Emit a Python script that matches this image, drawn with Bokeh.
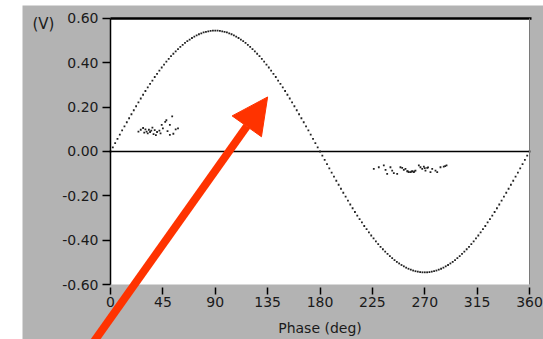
from bokeh.plotting import figure
from bokeh.models import (Range1d, FixedTicker, NumeralTickFormatter, LinearAxis,
                          BoxAnnotation, Arrow, NormalHead, Label)
from bokeh.embed import file_html
from bokeh.resources import INLINE

# ---- data ----
phase = list(range(0, 362, 2))
volts = [
    0.000, 0.019, 0.038, 0.057, 0.076, 0.095, 0.113, 0.132, 0.150, 0.168,
    0.186, 0.204, 0.222, 0.239, 0.256, 0.273, 0.289, 0.305, 0.320, 0.336,
    0.350, 0.365, 0.379, 0.392, 0.405, 0.418, 0.430, 0.441, 0.452, 0.462,
    0.472, 0.481, 0.490, 0.498, 0.505, 0.512, 0.518, 0.524, 0.529, 0.533,
    0.537, 0.540, 0.542, 0.544, 0.545, 0.545,
    0.545, 0.544, 0.542, 0.540, 0.537, 0.533, 0.529, 0.524, 0.518, 0.512,
    0.505, 0.498, 0.490, 0.481, 0.472, 0.462, 0.452, 0.441, 0.430, 0.418,
    0.405, 0.392, 0.379, 0.365, 0.350, 0.336, 0.320, 0.305, 0.289, 0.273,
    0.256, 0.239, 0.222, 0.204, 0.186, 0.168, 0.150, 0.132, 0.113, 0.095,
    0.076, 0.057, 0.038, 0.019, 0.000,
    -0.019, -0.038, -0.057, -0.076, -0.095, -0.113, -0.132, -0.150, -0.168,
    -0.186, -0.204, -0.222, -0.239, -0.256, -0.273, -0.289, -0.305, -0.320,
    -0.336, -0.350, -0.365, -0.379, -0.392, -0.405, -0.418, -0.430, -0.441,
    -0.452, -0.462, -0.472, -0.481, -0.490, -0.498, -0.505, -0.512, -0.518,
    -0.524, -0.529, -0.533, -0.537, -0.540, -0.542, -0.544, -0.545, -0.545,
    -0.545, -0.544, -0.542, -0.540, -0.537, -0.533, -0.529, -0.524, -0.518,
    -0.512, -0.505, -0.498, -0.490, -0.481, -0.472, -0.462, -0.452, -0.441,
    -0.430, -0.418, -0.405, -0.392, -0.379, -0.365, -0.350, -0.336, -0.320,
    -0.305, -0.289, -0.273, -0.256, -0.239, -0.222, -0.204, -0.186, -0.168,
    -0.150, -0.132, -0.113, -0.095, -0.076, -0.057, -0.038, -0.019, 0.000,
]

cluster1_phase = [24, 26, 28, 29, 30, 31, 32, 33, 34, 35, 36, 37, 38, 39, 40,
                  42, 43, 44, 45, 47, 48, 49, 51, 51, 53, 54, 56, 58]
cluster1_volts = [0.090, 0.098, 0.106, 0.085, 0.100, 0.090, 0.082, 0.098, 0.088,
                  0.094, 0.108, 0.078, 0.096, 0.074, 0.088, 0.094, 0.082, 0.120,
                  0.104, 0.134, 0.141, 0.092, 0.075, 0.120, 0.158, 0.080, 0.100,
                  0.104]

cluster2_phase = [226.2, 230.5, 234.8, 236.3, 237.7, 240.5, 242.0, 243.4, 246.3,
                  249.1, 250.6, 252.0, 253.4, 254.9, 255.5, 256.3, 257.7, 258.5,
                  259.2, 260.6, 261.0, 262.0, 264.9, 266.3, 267.8, 269.2, 270.0,
                  270.6, 272.1, 272.8, 274.9, 276.4, 279.2, 280.7, 283.5, 286.3,
                  287.5, 288.7]
cluster2_volts = [-0.078, -0.071, -0.063, -0.083, -0.101, -0.071, -0.086, -0.098,
                  -0.101, -0.071, -0.074, -0.083, -0.078, -0.089, -0.090, -0.093,
                  -0.093, -0.091, -0.089, -0.093, -0.090, -0.086, -0.063, -0.071,
                  -0.078, -0.068, -0.075, -0.086, -0.074, -0.072, -0.093, -0.078,
                  -0.086, -0.093, -0.071, -0.068, -0.066, -0.063]

y_ticks = [-0.6, -0.4, -0.2, 0.0, 0.2, 0.4, 0.6]
x_ticks = [0, 45, 90, 135, 180, 225, 270, 315, 360]

GRAY = "#b3b3b3"
FONT = "DejaVu Sans"
TXT = "#1a1a1a"

X0, X1 = x_ticks[0], x_ticks[-1]
Y0, Y1 = y_ticks[0], y_ticks[-1]

# The frame covers the whole grey panel; the white plot area is a box and the
# axes are pinned to its edges, so the arrow can run off the plot area.
p = figure(width=521, height=334, output_backend="svg", toolbar_location=None,
           x_range=Range1d(-75.6, 372.0), y_range=Range1d(-0.8481, 0.6586),
           x_axis_location=None, y_axis_location=None,
           min_border=0, min_border_left=0, min_border_right=0,
           min_border_top=0, min_border_bottom=0,
           border_fill_color=GRAY, background_fill_color=GRAY,
           outline_line_color=None)
p.margin = (5, 0, 0, 22)
p.grid.visible = False

p.add_layout(BoxAnnotation(left=X0, right=X1, bottom=Y0, top=Y1,
                           fill_color="white", fill_alpha=1.0,
                           line_color=None, level="underlay"))

# y axis
ya = LinearAxis(fixed_location=X0, bounds=(Y0, Y1))
ya.ticker = FixedTicker(ticks=y_ticks)
ya.formatter = NumeralTickFormatter(format="0.00")
ya.major_tick_out = 8
ya.major_tick_in = 0
ya.minor_tick_line_color = None
ya.major_label_standoff = 4
ya.axis_line_color = "black"
ya.axis_line_width = 1.5
ya.major_tick_line_color = "black"
ya.major_tick_line_width = 1.5
ya.major_label_text_font = FONT
ya.major_label_text_font_size = "14px"
ya.major_label_text_color = TXT
p.add_layout(ya, "left")

# x axis
xa = LinearAxis(fixed_location=-0.6135, bounds=(X0, X1))
xa.ticker = FixedTicker(ticks=x_ticks)
xa.major_tick_out = 7
xa.major_tick_in = 0
xa.minor_tick_line_color = None
xa.axis_line_color = None
xa.major_tick_line_color = "black"
xa.major_tick_line_width = 1.5
xa.major_label_standoff = 3
xa.major_label_text_font = FONT
xa.major_label_text_font_size = "14px"
xa.major_label_text_color = TXT
xa.axis_label = "Phase (deg)"
xa.axis_label_text_font = FONT
xa.axis_label_text_font_size = "14px"
xa.axis_label_text_font_style = "normal"
xa.axis_label_text_color = TXT
xa.axis_label_standoff = 9
p.add_layout(xa, "below")

# top and right edges of the plot area
top = LinearAxis(fixed_location=Y1, bounds=(X0, X1 + 2),
                 major_tick_line_color=None, minor_tick_line_color=None,
                 major_label_text_font_size="0px", axis_line_color="black",
                 axis_line_width=2.5, ticker=FixedTicker(ticks=[]))
p.add_layout(top, "above")
right = LinearAxis(fixed_location=X1, bounds=(Y0, Y1),
                   major_tick_line_color=None, minor_tick_line_color=None,
                   major_label_text_font_size="0px", axis_line_color="#7a7a7a",
                   axis_line_width=1, ticker=FixedTicker(ticks=[]))
p.add_layout(right, "right")

# zero line
p.segment(x0=[X0], y0=[0], x1=[X1], y1=[0], line_color="black", line_width=1.5)

# data dots
p.scatter(phase, volts, marker="square", size=1.8, color="#222222", line_color=None)
p.scatter(cluster1_phase, cluster1_volts, marker="square", size=1.8,
          color="#222222", line_color=None)
p.scatter(cluster2_phase, cluster2_volts, marker="square", size=1.8,
          color="#222222", line_color=None)

# unit label
p.add_layout(Label(x=-67, y=0.574, text="(V)", text_font=FONT,
                   text_font_size="15px", text_color=TXT,
                   text_baseline="middle", text_align="left"))

# red arrow
p.add_layout(Arrow(x_start=-20, y_start=-0.9, x_end=135.0, y_end=0.246,
                   line_color="#ff3300", line_width=8,
                   end=NormalHead(size=36, fill_color="#ff3300",
                                  line_color="#ff3300", line_width=1)))

open("out.html", "w").write(file_html(p, INLINE))
